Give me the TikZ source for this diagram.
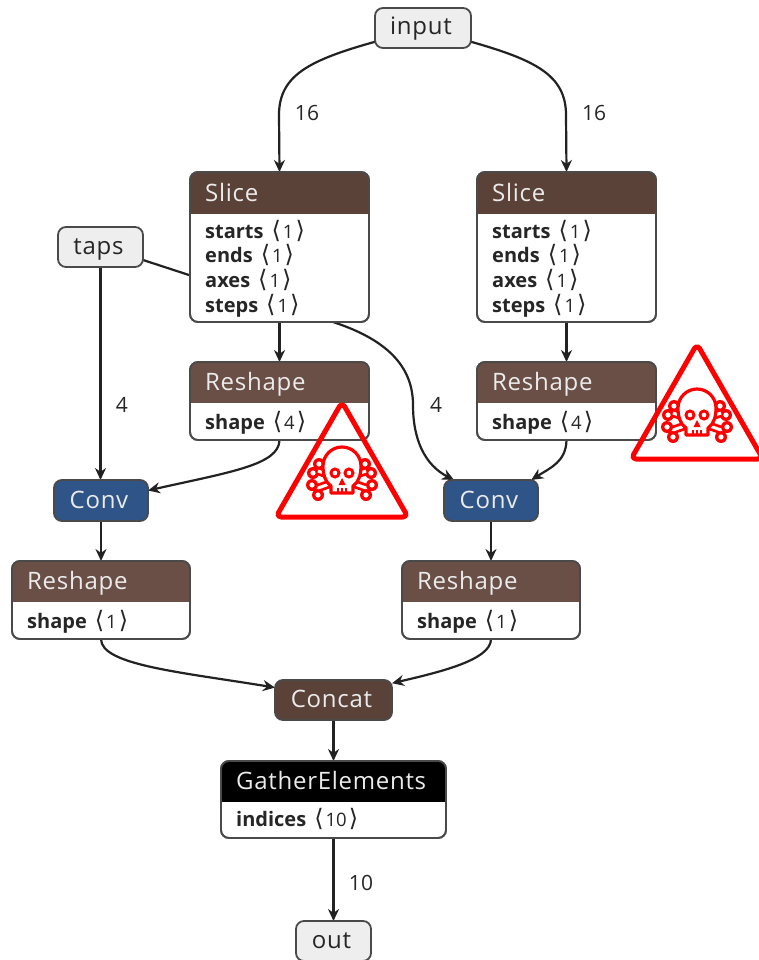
\documentclass[tikz,border=0pt]{standalone}
\usepackage{fontspec}
\setmainfont{Open Sans}
\newfontfamily\brk{DejaVu Sans}
\newfontfamily\titlefont[LetterSpace=3]{Open Sans}
\usetikzlibrary{arrows.meta,backgrounds}
\definecolor{edgec}{HTML}{222222}
\definecolor{nodeline}{HTML}{4A4A4A}
\definecolor{greyfill}{HTML}{EEEEEE}
\definecolor{slicec}{HTML}{5A4239}
\definecolor{reshapec}{HTML}{6A4F46}
\definecolor{convc}{HTML}{2F5488}
\definecolor{warn}{HTML}{FF0000}
\tikzset{
  x=1pt,y=-1pt,
  edge/.style={draw=edgec,line width=2.2pt},
  arrowedge/.style={edge,-{Stealth[length=12pt,width=11pt]}},
  opbox/.style={draw=nodeline,line width=1.8pt,rounded corners=8pt,inner sep=0pt,outer sep=0pt},
  title/.style={anchor=base west,inner sep=0pt,font=\titlefont\fontsize{24}{26}\selectfont},
  plaintext/.style={anchor=base,inner sep=0pt,font=\titlefont\fontsize{24}{26}\selectfont},
  attr/.style={anchor=base west,inner sep=0pt,yshift=-1pt,font=\fontsize{20}{22}\selectfont,text=black!85},
  elabel/.style={inner sep=0pt,yshift=-1pt,font=\fontsize{21}{23}\selectfont,text=black!85},
}
% #1 name, #2 x1, #3 y1, #4 x2, #5 y2, #6 fill, #7 text colour, #8 text
\newcommand{\plainop}[8]{%
  \node[opbox,fill=#6,minimum width=#4pt-#2pt,minimum height=#5pt-#3pt] (#1) at ({(#2+#4)/2},{(#3+#5)/2}) {};
  \node[plaintext,text=#7] (#1t) at ({(#2+#4)/2-2},{#5-13}) {#8};
}
% #1 name, #2 x1, #3 y1, #4 x2, #5 y2, #6 ysplit, #7 fill, #8 title
\newcommand{\attrop}[8]{%
  \node[opbox,fill=white,minimum width=#4pt-#2pt,minimum height=#5pt-#3pt] (#1) at ({(#2+#4)/2},{(#3+#5)/2}) {};
  \begin{scope}
    \clip[rounded corners=8pt] (#2,#3) rectangle (#4,#5);
    \fill[#7] (#2,#3) rectangle (#4,#6);
  \end{scope}
  \draw[nodeline,line width=1.8pt,rounded corners=8pt] (#2,#3) rectangle (#4,#5);
  \node[title,text=white!92!black] (#1t) at ({#2+15},{#6-13}) {#8};
}
\newcommand{\attrline}[5]{% name, x, baseline y, key, value
  \node[attr] (#1) at (#2,#3) {\textbf{#4}\hspace{8pt}{\brk\fontsize{24}{20}\selectfont\char"27E8}\hspace{2pt}{\fontsize{18.5}{20}\selectfont #5}\hspace{2pt}{\brk\fontsize{24}{20}\selectfont\char"27E9}};
}
\newcommand{\warnsign}[2]{%
  \begin{scope}[shift={(#1,#2)}]
    \draw[warn,line width=5pt,rounded corners=5pt,line join=round]
      (0,-71) -- (66,44) -- (-66,44) -- cycle;
    \foreach \sx in {1,-1}{
      \draw[warn,line width=8.5pt] (-24*\sx,-2) -- (24*\sx,15);
      \fill[warn] (-23*\sx,-9) circle (6) (-29*\sx,0) circle (6) (24*\sx,22) circle (6) (30*\sx,12) circle (6);
    }
    \foreach \sx in {1,-1}{
      \draw[white,line width=3pt] (-24*\sx,-2) -- (24*\sx,15);
      \fill[white] (-23*\sx,-9) circle (2.6) (-29*\sx,0) circle (2.6) (24*\sx,22) circle (2.6) (30*\sx,12) circle (2.6);
    }
    \draw[warn,line width=3.2pt,fill=white,line join=round]
      (-11,20) -- (-11,13) .. controls (-17,9) and (-19,1) .. (-19,-7)
      arc[start angle=180,end angle=360,radius=19] .. controls (19,1) and (17,9) .. (11,13) -- (11,20) -- cycle;
    \fill[warn] (-7,0) circle (5.6) (7,0) circle (5.6);
    \fill[white] (-7,0) circle (2.3) (7,0) circle (2.3);
    \fill[warn] (0,5) -- (3.5,12) -- (-3.5,12) -- cycle;
    \draw[warn,line width=1.3pt] (-4,15) -- (-4,20) (0,15) -- (0,20) (4,15) -- (4,20);
  \end{scope}
}
\begin{document}
\begin{tikzpicture}
\useasboundingbox (0,0) rectangle (759,960);

\plainop{input}{375}{8}{471}{48}{greyfill}{black!85}{input}
\plainop{taps}{58}{227}{143}{267}{greyfill}{black!85}{taps}

\attrop{sliceL}{190}{172}{369}{322}{214}{slicec}{Slice}
\attrline{a1}{205}{237}{starts}{1}
\attrline{a2}{205}{261}{ends}{1}
\attrline{a3}{205}{286}{axes}{1}
\attrline{a4}{205}{311}{steps}{1}

\attrop{sliceR}{477}{172}{656}{322}{214}{slicec}{Slice}
\attrline{b1}{492}{237}{starts}{1}
\attrline{b2}{492}{261}{ends}{1}
\attrline{b3}{492}{286}{axes}{1}
\attrline{b4}{492}{311}{steps}{1}

\attrop{reshL}{190}{362}{369}{440}{403}{reshapec}{Reshape}
\attrline{c1}{205}{428}{shape}{4}
\attrop{reshR}{477}{362}{656}{440}{403}{reshapec}{Reshape}
\attrline{c2}{492}{428}{shape}{4}

\plainop{convL}{54}{480}{148}{521}{convc}{white!92!black}{Conv}
\plainop{convR}{444}{480}{538}{521}{convc}{white!92!black}{Conv}

\attrop{reshB}{12}{561}{190}{639}{602}{reshapec}{Reshape}
\attrline{d1}{27}{627}{shape}{1}
\attrop{reshC}{402}{561}{580}{639}{602}{reshapec}{Reshape}
\attrline{d2}{417}{627}{shape}{1}

\plainop{concat}{275}{680}{392}{720}{slicec}{white!92!black}{Concat}

\attrop{gather}{221}{761}{446}{838}{802}{black}{GatherElements}
\attrline{e1}{236}{825}{indices}{10}

\plainop{out}{296}{921}{371}{961}{greyfill}{black!85}{out}

\begin{pgfonlayer}{background}
\draw[arrowedge] (input.196) .. controls (310,60) and (279,75) .. (279,115) -- (sliceL.north);
\draw[arrowedge] (input.-16) .. controls (535,60) and (566,75) .. (566,115) -- (sliceR.north);
\draw[arrowedge] (sliceL.south) -- (reshL.north);
\draw[arrowedge] (sliceR.south) -- (reshR.north);
\draw[arrowedge] (taps.south) -- (taps.south |- convL.north);
\draw[arrowedge] (taps.-17) -- (333,322) .. controls (385,339) and (413,365) .. (413,405) .. controls (413,440) and (425,465) .. (convR.151.7);
\draw[arrowedge] (reshL.south) .. controls (279,465) and (230,472) .. (convL.12);
\draw[arrowedge] (reshR.south) .. controls (566,462) and (550,468) .. (convR.27.7);
\draw[arrowedge] (convL.south) -- (reshB.north);
\draw[arrowedge] (convR.south) -- (reshC.north);
\draw[arrowedge] (reshB.south) .. controls (101,665) and (180,672) .. (concat.168.4);
\draw[arrowedge] (reshC.south) .. controls (491,660) and (440,672) .. (concat.16.2);
\draw[arrowedge] (concat.south) -- (gather.north);
\draw[arrowedge] (gather.south) -- (out.north);
\end{pgfonlayer}

\node[elabel] (l1) at (307,112) {16};
\node[elabel] (l2) at (594,112) {16};
\node[elabel] (l3) at (122,404) {4};
\node[elabel] (l4) at (436,404) {4};
\node[elabel] (l5) at (361,882) {10};

\warnsign{342}{473}
\warnsign{697}{415}
\end{tikzpicture}
\end{document}
